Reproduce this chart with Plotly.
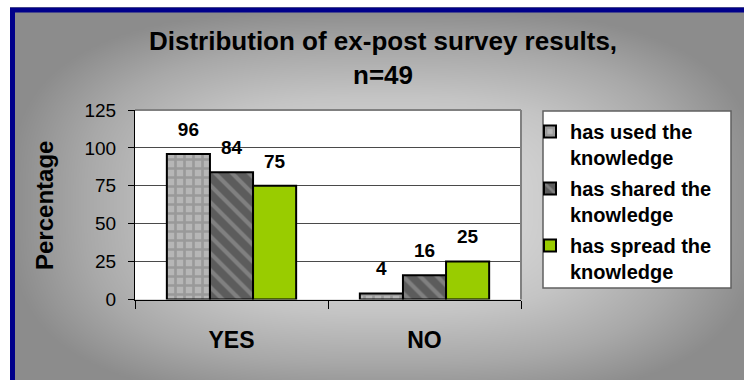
import numpy as np
import plotly.graph_objects as go

W, H = 744, 380
FONT = "Liberation Sans, Arial, sans-serif"

# ---- data -------------------------------------------------------------
categories = ["YES", "NO"]
used_values = [96, 4]
shared_values = [84, 16]
spread_values = [75, 25]
series_names = [
    "has used the<br>knowledge",
    "has shared the<br>knowledge",
    "has spread the<br>knowledge",
]
y_tickvals = [0, 25, 50, 75, 100, 125]
title_text = "Distribution of ex-post survey results,<br>n=49"
y_title = "Percentage"

# ---- chart-area background: grey gradient, light towards the middle ----
gx = np.arange(12, 764, 4.0)
gy = np.arange(9, 404, 4.0)
GX, GY = np.meshgrid(gx, gy)
cx, cy, rx, ry = 384.0, 205.0, 374.0, 196.0
shade = ((np.abs(GX - cx) / rx) ** 3 + (np.abs(GY - cy) / ry) ** 3) ** (1 / 3)
shade = np.clip(shade, 0, 1)

fig = go.Figure()
fig.add_trace(go.Heatmap(
    x=gx, y=gy, z=shade, zmin=0, zmax=1, zsmooth="best",
    colorscale=[[0, "#eaeaea"], [0.55, "#c4c4c4"], [0.8, "#a8a8a8"], [1, "#8c8c8c"]],
    showscale=False, hoverinfo="skip", xaxis="x", yaxis="y",
))

# ---- bars -------------------------------------------------------------
bar_styles = [
    dict(color="#b3b3b3",
         pattern=dict(shape="+", fgcolor="#999999", bgcolor="#b6b6b6",
                      size=9, solidity=0.5, fillmode="replace")),
    dict(color="#5c5c5c",
         pattern=dict(shape="\\", fgcolor="#808080", bgcolor="#5c5c5c",
                      size=12, solidity=0.35, fillmode="replace")),
    dict(color="#99cc00"),
]
series_values = [used_values, shared_values, spread_values]

for i, (name, vals, st) in enumerate(zip(series_names, series_values, bar_styles)):
    fig.add_trace(go.Bar(
        x=categories, y=vals, name=name, legendgroup=f"g{i}",
        marker=dict(color=st["color"], pattern=st.get("pattern"),
                    line=dict(color="black", width=2)),
        xaxis="x2", yaxis="y2", hoverinfo="skip",
    ))

# value labels above each bar, grouped like the bars
for vals in series_values:
    fig.add_trace(go.Scatter(
        x=categories, y=vals, mode="markers+text",
        text=[str(v) for v in vals], textposition="top center",
        marker=dict(size=20, color="rgba(0,0,0,0)"),
        textfont=dict(family=FONT, size=19, color="black", weight="bold"),
        cliponaxis=False, showlegend=False, hoverinfo="skip",
        xaxis="x2", yaxis="y2",
    ))

# ---- layout -----------------------------------------------------------
fig.update_layout(
    width=W, height=H,
    margin=dict(l=0, r=0, t=0, b=0),
    paper_bgcolor="white", plot_bgcolor="white",
    barmode="group", bargap=0.33, bargroupgap=0,
    scattermode="group",
    font=dict(family=FONT, color="black"),
    xaxis=dict(range=[0, W], visible=False, fixedrange=True),
    yaxis=dict(range=[H, 0], visible=False, fixedrange=True),
    xaxis2=dict(
        domain=[135 / W, 521 / W], anchor="y2",
        type="category", categoryorder="array", categoryarray=categories,
        showline=True, linecolor="black", linewidth=1,
        ticks="outside", tickson="boundaries", ticklen=8, tickcolor="black",
        tickfont=dict(family=FONT, size=23, color="black", weight="bold"),
        ticklabelstandoff=20, showgrid=False, automargin=False,
    ),
    yaxis2=dict(
        domain=[1 - 299.5 / H, 1 - 110 / H], anchor="x2",
        range=[0, 125], tickvals=y_tickvals,
        showline=True, linecolor="black", linewidth=1,
        ticks="outside", ticklen=6, tickcolor="black",
        tickfont=dict(family=FONT, size=19, color="black"),
        ticklabelstandoff=8,
        showgrid=True, gridcolor="#4a4a4a", gridwidth=1,
        zeroline=False, automargin=False,
    ),
    showlegend=True,
    legend=dict(
        x=530 / W, xanchor="left", y=1 - 112 / H, yanchor="top",
        bgcolor="rgba(0,0,0,0)", borderwidth=0,
        font=dict(family=FONT, size=20, color="black", weight="bold"),
        valign="top", tracegroupgap=2, traceorder="grouped",
    ),
    annotations=[
        dict(text=title_text, xref="x", yref="y", x=383, y=58,
             xanchor="center", yanchor="middle", showarrow=False,
             font=dict(family=FONT, size=26, color="black", weight="bold")),
        dict(text=y_title, xref="x", yref="y", x=44, y=206,
             textangle=-90, showarrow=False,
             font=dict(family=FONT, size=24, color="black", weight="bold")),
    ],
    shapes=[
        # legend box
        dict(type="rect", xref="x", yref="y", x0=543, x1=731, y0=111, y1=288,
             fillcolor="white", line=dict(color="#606060", width=1.5), layer="above"),
        # grey top / right edges of the plot area
        dict(type="line", xref="x2 domain", yref="y2 domain", x0=0, x1=1, y0=1, y1=1,
             line=dict(color="#808080", width=2), layer="above"),
        dict(type="line", xref="x2 domain", yref="y2 domain", x0=1, x1=1, y0=0, y1=1,
             line=dict(color="#808080", width=2), layer="above"),
        # navy chart frame
        dict(type="rect", xref="x", yref="y", x0=12.5, y0=10, x1=W + 20, y1=H + 20,
             line=dict(color="#00008b", width=5), fillcolor="rgba(0,0,0,0)", layer="above"),
    ],
)

fig.write_html("out.html")
